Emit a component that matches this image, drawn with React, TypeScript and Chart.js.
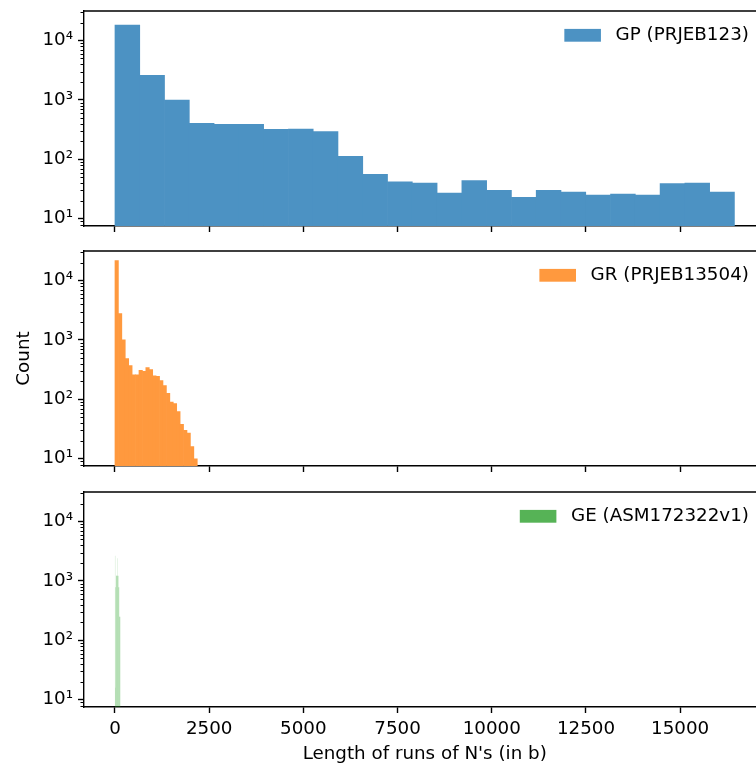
import React, { useEffect, useRef } from 'react';
import { Chart, registerables } from 'chart.js';

Chart.register(...registerables);

// ---------- data ----------
const gpLabel = 'GP (PRJEB123)';
const gpBinWidth = 657.6;
const gpCounts = [18200, 2610, 1000, 405, 390, 388, 321, 325, 293, 113, 56, 42, 40, 27, 44, 30, 23, 30, 28, 25, 26, 25, 39, 40, 28];

const grLabel = 'GR (PRJEB13504)';
const grBinWidth = 91;
const grCounts = [21700, 2780, 1010, 484, 369, 260, 260, 308, 296, 342, 316, 248, 245, 207, 170, 126, 90, 85, 62, 38, 30, 27, 16, 10];

const geLabel = 'GE (ASM172322v1)';
const geBinWidth = 7;
const geCounts = [2650, 16, 787, 787, 1220, 1220, 1220, 1220, 2420, 1220, 1220, 1220, 1220, 787, 787, 787, 250, 250, 250, 250];

const xTickValues = [0, 2500, 5000, 7500, 10000, 12500, 15000];
const yTickValues = [10, 100, 1000, 10000];
const yTickLabels = ['10¹', '10²', '10³', '10⁴'];
const xTitle = "Length of runs of N's (in b)";
const yTitle = 'Count';
const xRange = [-822, 17262];
const yRange = [7.55, 31500];

// ---------- styles ----------
const FONT = 'DejaVu Sans';
const FS = 18.3;
const CANVAS_W = 780;
const Y_AXIS_W = 84;
const RIGHT_PAD = 14.6;

const decorPlugin = {
  id: 'decor',
  afterDraw(chart: any, _args: any, opts: any) {
    const { ctx, chartArea } = chart;
    const { left, right, top, bottom } = chartArea;
    const y = chart.scales.y;
    ctx.save();
    ctx.strokeStyle = '#000';
    // minor ticks
    ctx.lineWidth = 1;
    for (let d = 0; d < 5; d++) {
      for (let m = 2; m < 10; m++) {
        const v = m * Math.pow(10, d);
        if (v < y.min || v > y.max) continue;
        const p = Math.round(y.getPixelForValue(v)) + 0.5;
        ctx.beginPath();
        ctx.moveTo(left - 3.5, p);
        ctx.lineTo(left, p);
        ctx.stroke();
      }
    }
    // top / right spines
    ctx.lineWidth = 1.4;
    ctx.beginPath();
    ctx.moveTo(left - 0.7, top);
    ctx.lineTo(right, top);
    ctx.lineTo(right, bottom);
    ctx.stroke();
    // legend
    const label = chart.data.datasets[0].label;
    ctx.font = `${FS}px "${FONT}"`;
    ctx.textAlign = 'right';
    ctx.textBaseline = 'middle';
    const tx = right - 16.5;
    const cy = top + 24.3;
    ctx.fillStyle = '#000';
    ctx.fillText(label, tx, cy);
    const tw = ctx.measureText(label).width;
    const hw = 36.6;
    const hh = 12.8;
    const hx = tx - tw - 14.6 - hw;
    ctx.fillStyle = opts.swatch;
    ctx.fillRect(hx, cy - hh / 2, hw, hh);
    ctx.restore();
  },
};

type PanelSpec = {
  label: string;
  binWidth: number;
  counts: number[];
  color: string;
  swatch: string;
  inflate: number;
  top: number;
  height: number;
  padTop: number;
  xHeight: number;
  showXLabels: boolean;
  showYTitle: boolean;
};

const panels: PanelSpec[] = [
  { label: gpLabel, binWidth: gpBinWidth, counts: gpCounts, color: '#4c92c3', swatch: '#4c92c3', inflate: 0.33, top: 0, height: 240, padTop: 11, xHeight: 14, showXLabels: false, showYTitle: false },
  { label: grLabel, binWidth: grBinWidth, counts: grCounts, color: '#ff993e', swatch: '#ff993e', inflate: 0.33, top: 240, height: 240, padTop: 11, xHeight: 14, showXLabels: false, showYTitle: true },
  { label: geLabel, binWidth: geBinWidth, counts: geCounts, color: 'rgba(44,160,44,0.4)', swatch: '#56b356', inflate: 0, top: 480, height: 285, padTop: 12, xHeight: 58, showXLabels: true, showYTitle: false },
];

const zeroPad = (s: any) => {
  s.paddingTop = 0;
  s.paddingBottom = 0;
  s.paddingLeft = 0;
  s.paddingRight = 0;
};

function Panel({ spec }: { spec: PanelSpec }) {
  const ref = useRef<HTMLCanvasElement | null>(null);
  useEffect(() => {
    if (!ref.current) return;
    const data = spec.counts.map((c, i) => ({ x: (i + 0.5) * spec.binWidth, y: c }));
    const chart = new Chart(ref.current, {
      type: 'bar',
      data: {
        datasets: [
          {
            label: spec.label,
            data,
            backgroundColor: spec.color,
            borderWidth: 0,
            barPercentage: 1,
            categoryPercentage: 1,
            inflateAmount: spec.inflate,
          } as any,
        ],
      },
      plugins: [decorPlugin as any],
      options: {
        animation: false,
        responsive: false,
        maintainAspectRatio: false,
        events: [],
        layout: { autoPadding: false, padding: { top: spec.padTop, right: RIGHT_PAD, left: 0, bottom: 0 } },
        plugins: {
          legend: { display: false },
          tooltip: { enabled: false },
          decor: { swatch: spec.swatch },
        } as any,
        scales: {
          x: {
            type: 'linear',
            min: xRange[0],
            max: xRange[1],
            offset: false,
            afterBuildTicks: (s: any) => {
              s.ticks = xTickValues.map((v) => ({ value: v }));
            },
            afterFit: (s: any) => {
              s.height = spec.xHeight;
              zeroPad(s);
            },
            grid: {
              offset: false,
              drawOnChartArea: false,
              drawTicks: true,
              tickLength: 6,
              tickWidth: 1.4,
              tickColor: '#000',
            },
            border: { display: true, color: '#000', width: 1.4 },
            ticks: {
              display: spec.showXLabels,
              autoSkip: false,
              maxRotation: 0,
              color: '#000',
              padding: 5,
              font: { family: FONT, size: FS },
              callback: (v: any) => String(v),
            },
            title: {
              display: spec.showXLabels,
              text: xTitle,
              color: '#000',
              font: { family: FONT, size: FS },
              padding: { top: 0, bottom: 0 },
            },
          },
          y: {
            type: 'logarithmic',
            min: yRange[0],
            max: yRange[1],
            afterBuildTicks: (s: any) => {
              s.ticks = yTickValues.map((v) => ({ value: v }));
            },
            afterFit: (s: any) => {
              s.width = Y_AXIS_W;
              zeroPad(s);
            },
            grid: {
              drawOnChartArea: false,
              drawTicks: true,
              tickLength: 6,
              tickWidth: 1.4,
              tickColor: '#000',
            },
            border: { display: true, color: '#000', width: 1.4 },
            ticks: {
              color: '#000',
              padding: 5,
              font: { family: FONT, size: FS },
              callback: (v: any) => {
                const i = yTickValues.indexOf(Number(v));
                return i >= 0 ? yTickLabels[i] : '';
              },
            },
            title: {
              display: spec.showYTitle,
              text: yTitle,
              color: '#000',
              font: { family: FONT, size: FS },
              padding: { top: 13, bottom: 0 },
            },
          },
        },
      } as any,
    });
    return () => chart.destroy();
  }, [spec]);
  return (
    <canvas
      ref={ref}
      width={CANVAS_W}
      height={spec.height}
      style={{ position: 'absolute', left: 0, top: spec.top, width: CANVAS_W, height: spec.height }}
    />
  );
}

export default function App() {
  return (
    <div style={{ position: 'fixed', left: 0, top: 0, width: CANVAS_W, height: 765, background: '#fff' }}>
      {panels.map((p) => (
        <Panel key={p.label} spec={p} />
      ))}
    </div>
  );
}
